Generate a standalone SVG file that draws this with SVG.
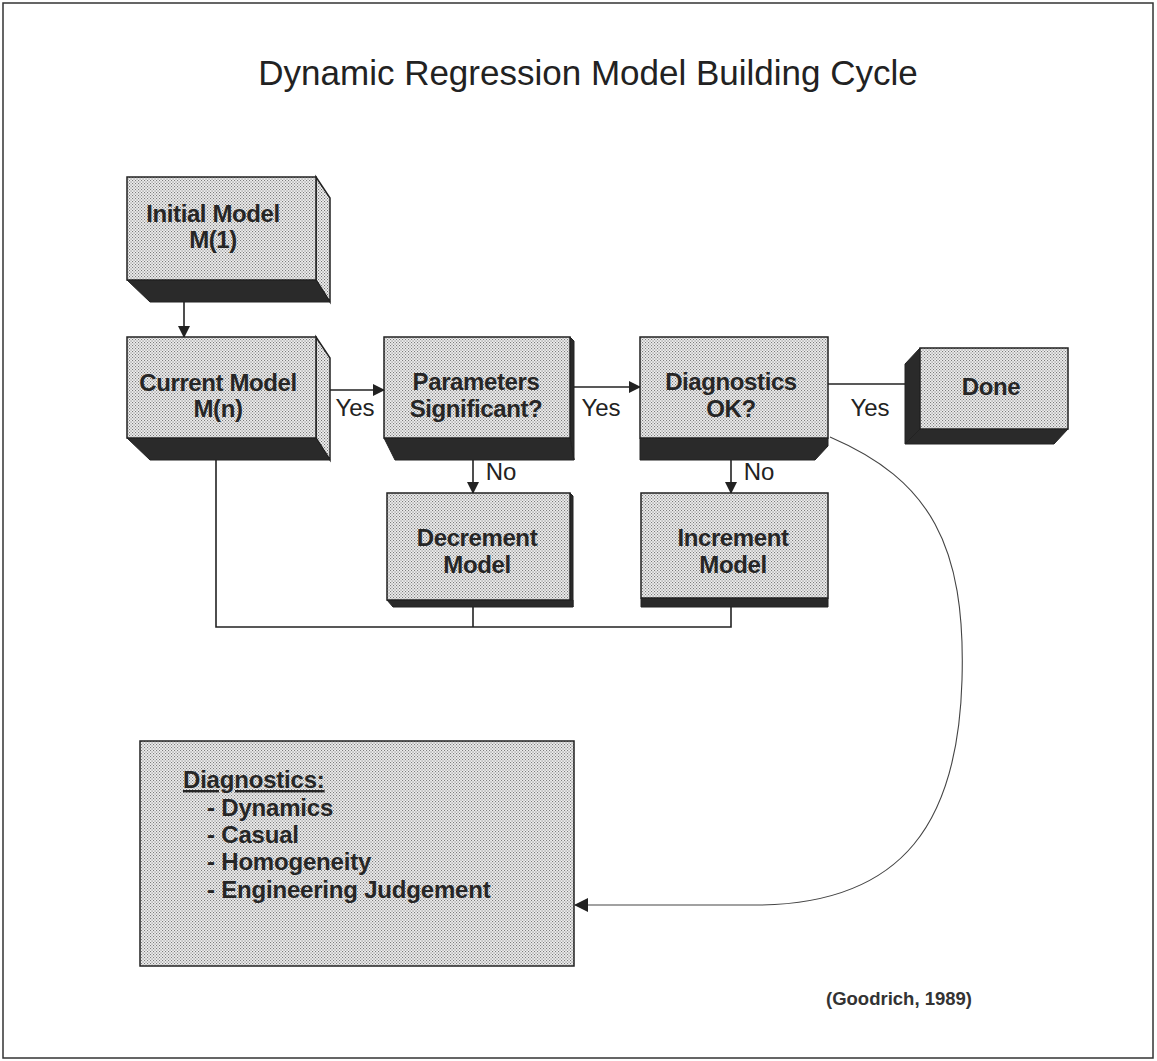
<svg xmlns="http://www.w3.org/2000/svg" width="1157" height="1061" viewBox="0 0 1157 1061">
  <defs>
    <!-- halftone screen used for box faces -->
    <pattern id="screen" width="3" height="3" patternUnits="userSpaceOnUse">
      <rect width="3" height="3" fill="#eeeeee"/>
      <rect x="0" y="0" width="1.1" height="1.1" fill="#7c7c7c"/>
      <rect x="1.5" y="1.5" width="1.1" height="1.1" fill="#7c7c7c"/>
    </pattern>
    <pattern id="screenLight" width="3" height="3" patternUnits="userSpaceOnUse">
      <rect width="3" height="3" fill="#f2f2f2"/>
      <rect x="0" y="0" width="1.1" height="1.1" fill="#707070"/>
      <rect x="1.5" y="1.5" width="1.1" height="1.1" fill="#707070"/>
    </pattern>
    <marker id="arrow" viewBox="0 0 12 12" refX="11" refY="6" markerWidth="12" markerHeight="12" markerUnits="userSpaceOnUse" orient="auto">
      <path d="M0,0 L12,6 L0,12 Z" fill="#222"/>
    </marker>
    <marker id="arrowWide" viewBox="0 0 14 14" refX="13" refY="7" markerWidth="14" markerHeight="14" markerUnits="userSpaceOnUse" orient="auto">
      <path d="M0,0 L14,7 L0,14 Z" fill="#222"/>
    </marker>
  </defs>
  <style>
    .face { fill: url(#screen); stroke: #222; stroke-width: 1.5; }
    .side { fill: url(#screenLight); stroke: #222; stroke-width: 1.5; }
    .dark { fill: #2a2a2a; stroke: #222; stroke-width: 1; }
    .lbl { font-family: "Liberation Sans", Arial, sans-serif; font-weight: bold; font-size: 24px; fill: #262626; text-anchor: middle; letter-spacing: -0.4px; }
    .note { font-family: "Liberation Sans", Arial, sans-serif; font-weight: bold; font-size: 24px; fill: #262626; letter-spacing: -0.2px; }
    .edge { font-family: "Liberation Sans", Arial, sans-serif; font-size: 24px; fill: #222; }
    .line { fill: none; stroke: #222; stroke-width: 1.6; }
    .thin { fill: none; stroke: #444; stroke-width: 1.1; }
  </style>

  <rect width="1157" height="1061" fill="#ffffff"/>
  <!-- page frame -->
  <rect x="3" y="3" width="1150" height="1055" fill="none" stroke="#333" stroke-width="1.5"/>

  <text x="588" y="85" font-family="Liberation Sans, Arial, sans-serif" font-size="35" fill="#222" text-anchor="middle">Dynamic Regression Model Building Cycle</text>

  <!-- connectors -->
  <g id="connectors">
    <line class="line" x1="184" y1="302" x2="184" y2="337" marker-end="url(#arrow)"/>
    <line class="line" x1="330" y1="390" x2="384" y2="390" marker-end="url(#arrow)"/>
    <line class="line" x1="572" y1="387" x2="640" y2="387" marker-end="url(#arrow)"/>
    <line class="line" x1="828" y1="384" x2="905" y2="384"/>
    <line class="line" x1="473" y1="460" x2="473" y2="493" marker-end="url(#arrow)"/>
    <line class="line" x1="731" y1="460" x2="731" y2="493" marker-end="url(#arrow)"/>
    <!-- return path back to the current model -->
    <polyline class="line" points="216,460 216,627 731,627 731,607"/>
    <line class="line" x1="473" y1="607" x2="473" y2="627"/>
    <!-- diagnostics checklist reference -->
    <path class="thin" d="M830,437 C930,480 966,545 962,680 C958,820 905,903 760,905 L575,905" marker-end="url(#arrowWide)"/>
    <text class="edge" x="355" y="416" text-anchor="middle">Yes</text>
    <text class="edge" x="601" y="416" text-anchor="middle">Yes</text>
    <text class="edge" x="870" y="416" text-anchor="middle">Yes</text>
    <text class="edge" x="501" y="480" text-anchor="middle">No</text>
    <text class="edge" x="759" y="480" text-anchor="middle">No</text>
  </g>

  <g id="initial-model">
    <polygon class="side" points="316,177 330,198 330,302 316,280"/>
    <polygon class="dark" points="127,280 316,280 330,302 150,302"/>
    <rect class="face" x="127" y="177" width="189" height="103"/>
    <text class="lbl" x="213" y="222">Initial Model</text>
    <text class="lbl" x="213" y="248">M(1)</text>
  </g>

  <g id="current-model">
    <polygon class="side" points="316,337 330,358 330,460 316,438"/>
    <polygon class="dark" points="127,438 316,438 330,460 150,460"/>
    <rect class="face" x="127" y="337" width="189" height="101"/>
    <text class="lbl" x="218" y="391">Current Model</text>
    <text class="lbl" x="218" y="417">M(n)</text>
  </g>

  <g id="parameters-significant">
    <polygon class="dark" points="570,337 574,341 574,460 570,438"/>
    <polygon class="dark" points="384,438 570,438 574,460 395,460"/>
    <rect class="face" x="384" y="337" width="186" height="101"/>
    <text class="lbl" x="476" y="390">Parameters</text>
    <text class="lbl" x="476" y="417">Significant?</text>
  </g>

  <g id="diagnostics-ok">
    <polygon class="dark" points="640,438 828,438 828,446 815,460 640,460"/>
    <rect class="face" x="640" y="337" width="188" height="101"/>
    <text class="lbl" x="731" y="390">Diagnostics</text>
    <text class="lbl" x="731" y="417">OK?</text>
  </g>

  <g id="done">
    <polygon class="dark" points="905,364 920,348 920,429 905,444"/>
    <polygon class="dark" points="905,444 1054,444 1068,429 920,429"/>
    <rect class="face" x="920" y="348" width="148" height="81"/>
    <text class="lbl" x="991" y="395">Done</text>
  </g>

  <g id="decrement-model">
    <polygon class="dark" points="570,493 573,496 573,607 570,600"/>
    <polygon class="dark" points="387,600 573,600 573,607 393,607"/>
    <rect class="face" x="387" y="493" width="183" height="107"/>
    <text class="lbl" x="477" y="546">Decrement</text>
    <text class="lbl" x="477" y="573">Model</text>
  </g>

  <g id="increment-model">
    <polygon class="dark" points="641,598 828,598 828,607 641,607"/>
    <rect class="face" x="641" y="493" width="187" height="105"/>
    <text class="lbl" x="733" y="546">Increment</text>
    <text class="lbl" x="733" y="573">Model</text>
  </g>

  <g id="diagnostics-list">
    <rect class="face" x="140" y="741" width="434" height="225"/>
    <text class="note" x="183" y="788" text-decoration="underline">Diagnostics:</text>
    <text class="note" x="207" y="816">- Dynamics</text>
    <text class="note" x="207" y="843">- Casual</text>
    <text class="note" x="207" y="870">- Homogeneity</text>
    <text class="note" x="207" y="898">- Engineering Judgement</text>
  </g>

  <text x="899" y="1005" font-family="Liberation Sans, Arial, sans-serif" font-size="18.5" font-weight="bold" fill="#333" text-anchor="middle">(Goodrich, 1989)</text>
</svg>
